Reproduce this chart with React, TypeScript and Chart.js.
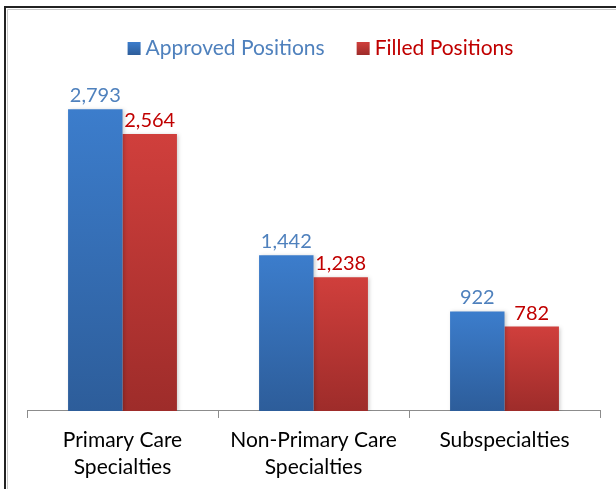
import React, { useEffect, useRef } from "react";
import { Chart, registerables } from "chart.js";

Chart.register(...registerables);

const categories: (string | string[])[] = [
  ["Primary Care", "Specialties"],
  ["Non-Primary Care", "Specialties"],
  "Subspecialties",
];
const seriesNames = ["Approved Positions", "Filled Positions"];
const approvedValues = [2793, 1442, 922];
const filledValues = [2564, 1238, 782];

const FONT = "Lato, 'Open Sans', sans-serif";
const TEXT_COLORS = ["#4F81BD", "#C00000"];
const GRAD = [
  ["#3C7DCC", "#2D5D9A"],
  ["#D03F3C", "#9E2C2A"],
];

const fmt = (v: number) => v.toLocaleString("en-US");

function barGradient(idx: number) {
  return (ctx: any) => {
    const chart = ctx.chart;
    const area = chart.chartArea;
    const y = chart.scales?.y;
    if (!area || !y || ctx.parsed == null) return GRAD[idx][0];
    const top = y.getPixelForValue(ctx.parsed.y);
    const bottom = y.getPixelForValue(0);
    if (!isFinite(top) || !isFinite(bottom) || top === bottom) return GRAD[idx][0];
    const g = chart.ctx.createLinearGradient(0, top, 0, bottom);
    g.addColorStop(0, GRAD[idx][0]);
    g.addColorStop(1, GRAD[idx][1]);
    return g;
  };
}

const frame = {
  id: "frame",
  beforeDraw(chart: any) {
    const c = chart.ctx;
    c.save();
    c.fillStyle = "#ffffff";
    c.fillRect(0, 0, chart.width, chart.height);
    c.strokeStyle = "#c8c8c8";
    c.lineWidth = 1;
    c.beginPath();
    c.moveTo(7.5, chart.height);
    c.lineTo(7.5, 9.5);
    c.lineTo(chart.width, 9.5);
    c.stroke();
    c.strokeStyle = "#222222";
    c.lineWidth = 2;
    c.beginPath();
    c.moveTo(5, chart.height);
    c.lineTo(5, 7);
    c.lineTo(chart.width, 7);
    c.stroke();
    c.restore();
  },
};

const shadow = {
  id: "barShadow",
  beforeDatasetsDraw(chart: any) {
    const c = chart.ctx;
    c.save();
    c.shadowColor = "rgba(0,0,0,0.22)";
    c.shadowBlur = 4;
    c.shadowOffsetX = 1.5;
    c.shadowOffsetY = 1;
  },
  afterDatasetsDraw(chart: any) {
    chart.ctx.restore();
  },
};

const dataLabels = {
  id: "dataLabels",
  afterDatasetsDraw(chart: any) {
    const c = chart.ctx;
    c.save();
    c.font = `20px ${FONT}`;
    c.textAlign = "center";
    c.textBaseline = "alphabetic";
    chart.data.datasets.forEach((ds: any, di: number) => {
      const meta = chart.getDatasetMeta(di);
      meta.data.forEach((bar: any, i: number) => {
        c.fillStyle = TEXT_COLORS[di];
        c.fillText(fmt(ds.data[i]), bar.x, bar.y - 7);
      });
    });
    c.restore();
  },
};

const customLegend = {
  id: "customLegend",
  afterDraw(chart: any) {
    const c = chart.ctx;
    c.save();
    c.font = `21px ${FONT}`;
    c.textBaseline = "alphabetic";
    c.textAlign = "left";
    const box = 13;
    const gap = 5;
    const itemGap = 32;
    const widths = chart.data.datasets.map((d: any) => c.measureText(d.label).width);
    const total =
      widths.reduce((a: number, w: number) => a + box + gap + w, 0) +
      itemGap * (widths.length - 1);
    const center = (chart.chartArea.left + chart.chartArea.right) / 2 + 7;
    let x = center - total / 2;
    const baseline = 55;
    chart.data.datasets.forEach((d: any, i: number) => {
      const g = c.createLinearGradient(0, baseline - box, 0, baseline);
      g.addColorStop(0, GRAD[i][0]);
      g.addColorStop(1, GRAD[i][1]);
      c.fillStyle = g;
      c.fillRect(x, baseline - box, box, box);
      x += box + gap;
      c.fillStyle = TEXT_COLORS[i];
      c.fillText(d.label, x, baseline);
      x += widths[i] + itemGap;
    });
    c.restore();
  },
};

export default function App() {
  const ref = useRef<HTMLCanvasElement>(null);
  useEffect(() => {
    if (!ref.current) return;
    const chart = new Chart(ref.current, {
      type: "bar",
      data: {
        labels: categories,
        datasets: [
          {
            label: seriesNames[0],
            data: approvedValues,
            backgroundColor: barGradient(0),
            borderWidth: 0,
          },
          {
            label: seriesNames[1],
            data: filledValues,
            backgroundColor: barGradient(1),
            borderWidth: 0,
          },
        ],
      },
      options: {
        responsive: false,
        animation: false,
        layout: { padding: { top: 87, left: 27, right: 16, bottom: 0 } },
        plugins: {
          legend: { display: false },
          tooltip: { enabled: false },
          title: { display: false },
        },
        datasets: {
          bar: { categoryPercentage: 0.57, barPercentage: 1.0 },
        },
        scales: {
          x: {
            offset: true,
            grid: {
              display: true,
              offset: true,
              drawOnChartArea: false,
              drawTicks: true,
              tickLength: 7,
              color: "#8C8C8C",
            },
            border: { display: true, color: "#8C8C8C", width: 1 },
            ticks: {
              color: "#000000",
              padding: 8,
              maxRotation: 0,
              autoSkip: false,
              font: { family: FONT, size: 21, lineHeight: 1.31 },
            },
          },
          y: {
            display: false,
            min: 0,
            max: 3000,
          },
        },
      },
      plugins: [frame, shadow, dataLabels, customLegend],
    });
    return () => chart.destroy();
  }, []);
  return (
    <div style={{ position: "fixed", left: 0, top: 0, width: 616, height: 489, background: "#fff" }}>
      <canvas ref={ref} width={616} height={489} style={{ display: "block" }} />
    </div>
  );
}
